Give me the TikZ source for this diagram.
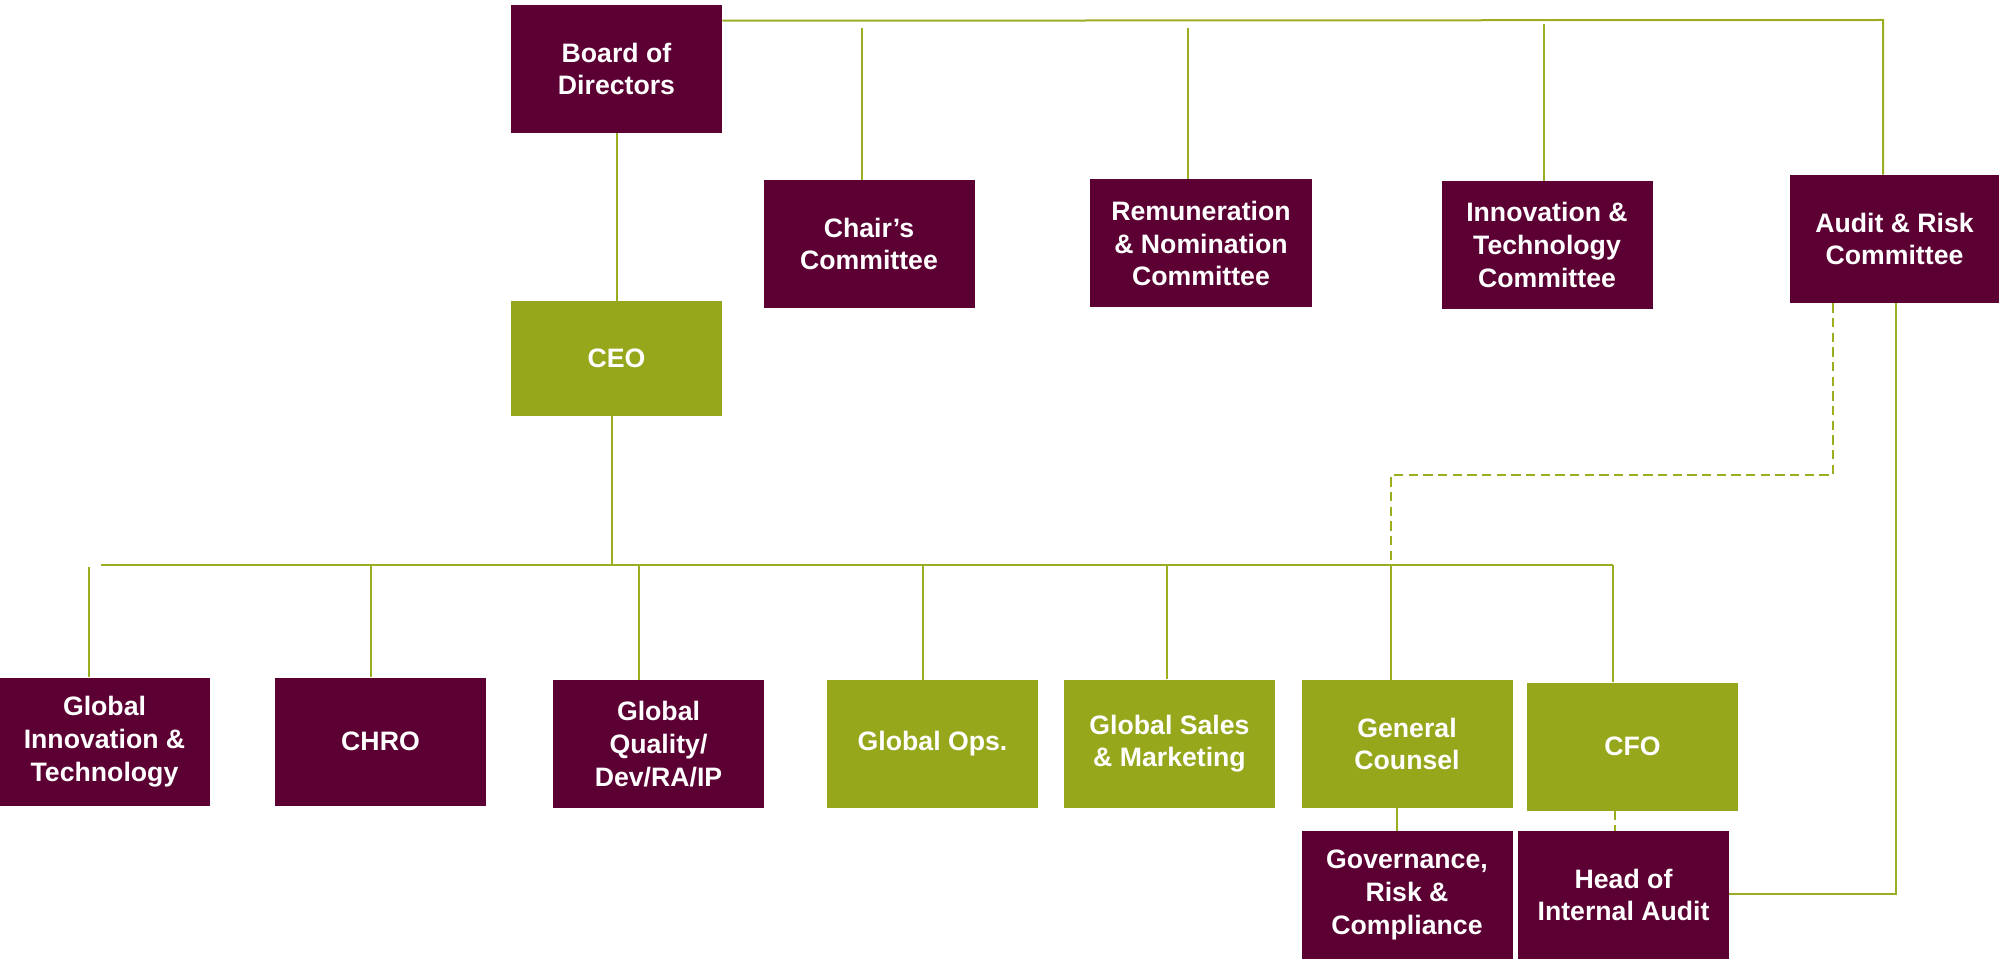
\documentclass[tikz,border=0pt]{standalone}
\usepackage{fontspec}
\setmainfont{Liberation Sans}
\definecolor{maroon}{HTML}{5C0034}
\definecolor{olivebox}{HTML}{96A71C}
\definecolor{linec}{HTML}{9CAD22}
\begin{document}
\begin{tikzpicture}[x=0.75pt,y=-0.75pt,
  box/.style={rectangle, inner sep=0pt, align=center, text=white,
    font=\fontsize{20}{24.5}\selectfont\bfseries,
    minimum width=158.25pt, minimum height=96pt},
  mbox/.style={box, fill=maroon},
  gbox/.style={box, fill=olivebox},
  conn/.style={draw=linec, line width=1.5pt},
  dconn/.style={conn, dash pattern=on 7pt off 4pt}]
\path[use as bounding box] (0,0) rectangle (1999,959);

% top row
\node[mbox] (board) at (616.5,69) {Board of\\Directors};
\node[mbox] (chair) at (869,244) {Chair’s\\Committee};
\node[mbox, minimum width=166.5pt] (remun) at (1201,243.5) {Remuneration\\\& Nomination\\Committee};
\node[mbox] (innov) at (1547,245) {Innovation \&\\Technology\\Committee};
\node[mbox, minimum width=156.75pt] (audit) at (1894.5,239) {Audit \& Risk\\Committee};
\node[gbox, minimum height=86.25pt] (ceo) at (616.5,358.5) {CEO};

% bottom row
\node[mbox] (git) at (104.5,741.5) {Global\\Innovation \&\\Technology};
\node[mbox] (chro) at (380.5,741.5) {CHRO};
\node[mbox] (qual) at (658.5,744) {Global\\Quality/\\Dev/RA/IP};
\node[gbox] (ops) at (932.5,744) {Global Ops.};
\node[gbox] (sales) at (1169.5,743.5) {Global Sales\\\& Marketing};
\node[gbox] (gc) at (1407,744) {General\\Counsel};
\node[gbox] (cfo) at (1632.5,746.5) {CFO};
\node[mbox] (grc) at (1407,895) {Governance,\\Risk \&\\Compliance};
\node[mbox] (hia) at (1623.5,895) {Head of\\Internal Audit};

% board line to committees
\coordinate (tr) at (1883,20);
\draw[conn] ([yshift=-12pt]board.north east) -- (tr) -- (tr |- audit.north);
\coordinate (cd) at (862,28);
\draw[conn] (cd) -- (cd |- chair.north);
\coordinate (rd) at (1188,28);
\draw[conn] (rd) -- (rd |- remun.north);
\coordinate (id) at (1544,24);
\draw[conn] (id) -- (id |- innov.north);

% board to ceo
\draw[conn] (board.south) -- (ceo.north);

% ceo to bus
\coordinate (ceob) at (612,565);
\draw[conn] (ceob |- ceo.south) -- (ceob);
\coordinate (busL) at (101,565);
\coordinate (busR) at (1613,565);
\draw[conn] (busL) -- (busR);

% drops
\coordinate (d1) at (89,567);
\draw[conn] (d1) -- (d1 |- git.north);
\coordinate (d2) at (371,564);
\draw[conn] (d2) -- (d2 |- chro.north);
\coordinate (d3) at (639,564);
\draw[conn] (d3) -- (d3 |- qual.north);
\coordinate (d4) at (923,565);
\draw[conn] (d4) -- (d4 |- ops.north);
\coordinate (d5) at (1167,565);
\draw[conn] (d5) -- (d5 |- sales.north);
\coordinate (gd) at (1391,475);
\draw[conn] (gd |- busL) -- (gd |- gc.north);
\draw[conn] (busR) -- (busR |- cfo.north);

% audit dashed to general counsel
\coordinate (ad) at (1833,475);
\draw[dconn] (ad |- audit.south) -- (ad) -- (gd) -- (gd |- busL);

% audit solid to head of internal audit
\coordinate (as) at (1896,894);
\draw[conn] (as |- audit.south) -- (as) -- (as -| hia.east);

% gc to grc, cfo to hia
\coordinate (gg) at (1397,0);
\draw[conn] (gg |- gc.south) -- (gg |- grc.north);
\coordinate (ch) at (1615,0);
\draw[dconn] (ch |- cfo.south) -- (ch |- hia.north);
\end{tikzpicture}
\end{document}
